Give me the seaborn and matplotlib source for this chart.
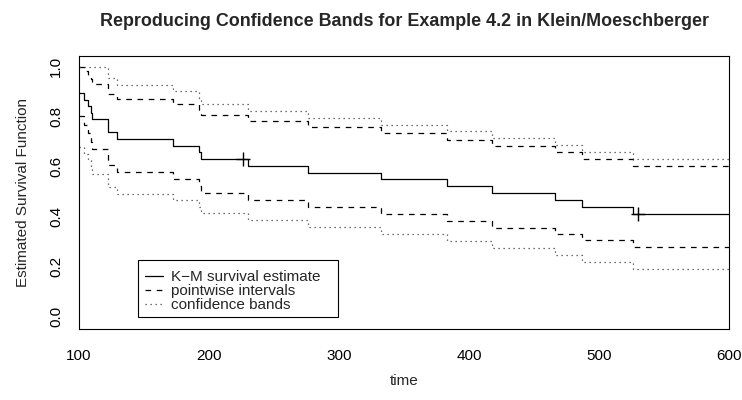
import matplotlib
matplotlib.use("Agg")
import matplotlib.pyplot as plt
from matplotlib.lines import Line2D
from matplotlib.patches import Rectangle
import seaborn as sns
import pandas as pd

# ---- data ----
times = [100, 104, 107, 109, 110, 122, 129, 172, 192, 194, 230, 276, 332, 383, 418, 466, 487, 526, 600]
km = [0.895, 0.868, 0.842, 0.816, 0.789, 0.737, 0.711, 0.684, 0.658, 0.632, 0.604, 0.577, 0.549, 0.522, 0.494, 0.467, 0.439, 0.412, 0.412]
pw_upper = [0.998, 0.983, 0.966, 0.949, 0.930, 0.891, 0.870, 0.849, 0.827, 0.805, 0.782, 0.758, 0.734, 0.709, 0.684, 0.658, 0.632, 0.605, 0.605]
pw_lower = [0.802, 0.767, 0.734, 0.701, 0.670, 0.609, 0.580, 0.551, 0.523, 0.495, 0.467, 0.439, 0.411, 0.384, 0.357, 0.331, 0.306, 0.280, 0.280]
band_upper = [1.000, 1.000, 1.000, 1.000, 1.000, 0.954, 0.928, 0.902, 0.875, 0.849, 0.822, 0.795, 0.768, 0.741, 0.714, 0.687, 0.660, 0.630, 0.630]
band_lower = [0.677, 0.651, 0.625, 0.598, 0.572, 0.520, 0.493, 0.467, 0.441, 0.414, 0.386, 0.358, 0.331, 0.303, 0.275, 0.247, 0.219, 0.190, 0.190]
censor_times = [226, 530]
censor_surv = [0.632, 0.412]

x_ticks = [100, 200, 300, 400, 500, 600]
y_ticks = [0.0, 0.2, 0.4, 0.6, 0.8, 1.0]
legend_labels = ["K\u2212M survival estimate", "pointwise intervals", "confidence bands"]

title = "Reproducing Confidence Bands for Example 4.2 in Klein/Moeschberger"

# ---- style ----
sns.set_style("white")
plt.rcParams["font.family"] = ["Liberation Sans", "DejaVu Sans"]

W, H = 742, 400
fig = plt.figure(figsize=(W / 100, H / 100), dpi=100)
L, R, T, B = 79, 729, 56, 329
ax = fig.add_axes([L / W, 1 - B / H, (R - L) / W, (B - T) / H])

df = pd.DataFrame({"time": times, "km": km, "pu": pw_upper, "pl": pw_lower,
                   "bu": band_upper, "bl": band_lower})

lw = 0.9
dash = (0, (4.5, 4.5))
dots = (0, (1, 3))
sns.lineplot(data=df, x="time", y="km", ax=ax, color="black", lw=lw,
             drawstyle="steps-post", estimator=None, sort=False)
for col in ["pu", "pl"]:
    sns.lineplot(data=df, x="time", y=col, ax=ax, color="black", lw=lw,
                 drawstyle="steps-post", estimator=None, sort=False,
                 linestyle=dash)
for col in ["bu", "bl"]:
    sns.lineplot(data=df, x="time", y=col, ax=ax, color="#444444", lw=lw,
                 drawstyle="steps-post", estimator=None, sort=False,
                 linestyle=dots)

cdf = pd.DataFrame({"t": censor_times, "s": censor_surv})
sns.scatterplot(data=cdf, x="t", y="s", ax=ax, marker="+", s=90,
                color="black", linewidth=1.0, zorder=5)

ax.set_xlim(100, 600)
ax.set_ylim(-0.049, 1.043)
ax.set_xticks(x_ticks)
ax.set_xticklabels([str(v) for v in x_ticks])
ax.set_yticks(y_ticks)
ax.set_yticklabels([f"{v:.1f}" for v in y_ticks], rotation=90, va="center")

ax.tick_params(axis="both", direction="out", length=6.5, width=0.8,
               labelsize=11, colors="black")
ax.tick_params(axis="x", pad=8)
ax.tick_params(axis="y", pad=5)
for sp in ax.spines.values():
    sp.set_visible(True)
    sp.set_color("black")
    sp.set_linewidth(0.8)

ax.set_xlabel("time", fontsize=11, labelpad=8)
ax.set_ylabel("Estimated Survival Function", fontsize=11, labelpad=14)
fig.text(0.5 * (L + R) / W, 1 - 22 / H, title, ha="center", va="center",
         fontsize=12.9, fontweight="bold")

# legend: entries without frame, plus a square frame drawn as in R
handles = [Line2D([], [], color="black", lw=lw),
           Line2D([], [], color="black", lw=lw, linestyle=dash),
           Line2D([], [], color="#444444", lw=lw, linestyle=dots)]
lx0, ly0, lx1, ly1 = 138, 260, 338, 317
to_ax = lambda px, py: ((px - L) / (R - L), (B - py) / (B - T))
leg = ax.legend(handles, legend_labels, loc="upper left",
                bbox_to_anchor=to_ax(lx0, ly0 + 3), borderaxespad=0,
                fontsize=11, frameon=False, handlelength=1.2,
                handletextpad=0.5, labelspacing=0.0, borderpad=0.45)
x0, y0 = to_ax(lx0, ly1)
x1, y1 = to_ax(lx1, ly0)
ax.add_patch(Rectangle((x0, y0), x1 - x0, y1 - y0, transform=ax.transAxes,
                       fill=False, edgecolor="black", lw=0.8, zorder=6))

fig.savefig("out.png", dpi=100)
